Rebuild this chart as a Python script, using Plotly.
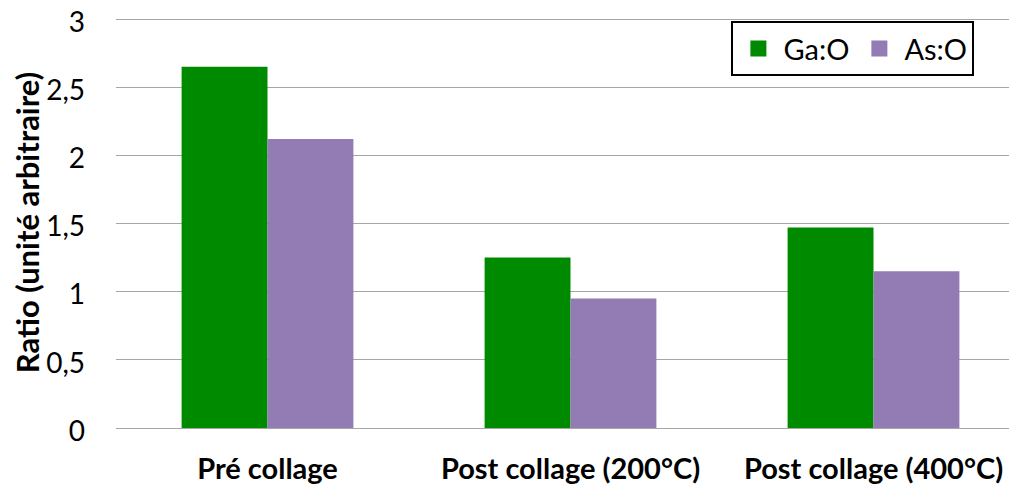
import plotly.graph_objects as go

categories = ["Pré collage", "Post collage (200°C)", "Post collage (400°C)"]
series_names = ["Ga:O", "As:O"]
ga_o = [2.65, 1.25, 1.47]
as_o = [2.12, 0.95, 1.15]
colors = ["#008a00", "#937bb4"]

fig = go.Figure()
for name, vals, col in zip(series_names, [ga_o, as_o], colors):
    fig.add_trace(go.Bar(name=name, x=categories, y=vals, showlegend=False,
                         marker=dict(color=col, line=dict(width=0))))
# legend entries with larger square swatches
for name, col in zip(series_names, colors):
    fig.add_trace(go.Scatter(name=name, x=[None], y=[None], mode="markers",
                             marker=dict(symbol="square", size=18, color=col)))

font_family = "Lato, Open Sans, sans-serif"
fig.update_layout(
    width=1017, height=486,
    margin=dict(l=108, r=0, t=9, b=66, autoexpand=False),
    paper_bgcolor="white", plot_bgcolor="white",
    barmode="group", bargap=0.433, bargroupgap=0,
    font=dict(family=font_family, size=28, color="black"),
    showlegend=True,
    legend=dict(orientation="h", x=0.677, y=0.99, xanchor="left", yanchor="top",
                bordercolor="black", borderwidth=2, bgcolor="white",
                font=dict(size=29), traceorder="normal", itemsizing="trace", itemwidth=40),
    xaxis=dict(range=[-0.5, 2.5], showgrid=False, showline=False, ticks="", automargin=False,
               tickfont=dict(size=29, family=font_family, weight="bold"),
               ticklabelstandoff=21),
    yaxis=dict(range=[0, 3.015], showgrid=True, automargin=False,
               gridcolor="#a6a6a6", gridwidth=1, zeroline=True, zerolinecolor="#a6a6a6",
               zerolinewidth=1, showline=False, ticks="",
               tickvals=[0, 0.5, 1, 1.5, 2, 2.5, 3],
               ticktext=["0", "0,5", "1", "1,5", "2", "2,5", "3"],
               tickfont=dict(size=28), ticklabelstandoff=30, ticklabeloverflow="allow",
               ticklabelshift=3,
               title=dict(text="Ratio (unité arbitraire)", font=dict(size=31, weight="bold"), standoff=6)),
)
fig.write_html("out.html")
